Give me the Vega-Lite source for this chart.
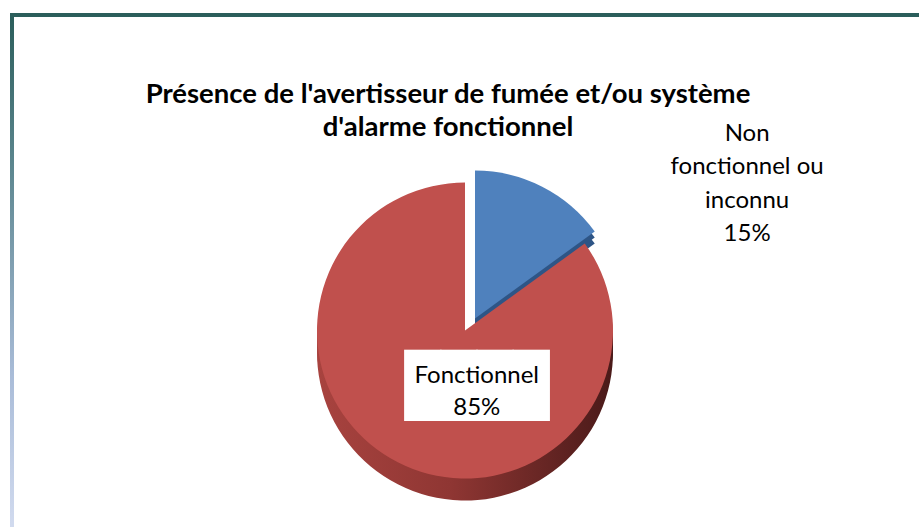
{
  "$schema": "https://vega.github.io/schema/vega-lite/v6.json",
  "width": 919,
  "height": 527,
  "autosize": {"type": "fit", "contains": "padding"},
  "padding": {"left": 10, "top": 13, "right": -5, "bottom": -5},
  "background": "white",
  "config": {
    "view": {"stroke": null},
    "font": "Lato"
  },
  "title": {
    "text": ["Présence de l'avertisseur de fumée et/ou système", "d'alarme fonctionnel"],
    "font": "Lato",
    "fontSize": 27.5,
    "fontWeight": "bold",
    "color": "#000000",
    "anchor": "middle",
    "frame": "group",
    "baseline": "alphabetic",
    "lineHeight": 33,
    "offset": -91,
    "dx": -19,
    "dy": 59
  },
  "data": {
    "values": [
      {"cat": "Non fonctionnel ou inconnu", "value": 15, "label": ["Non", "fonctionnel ou", "inconnu", "15%"]},
      {"cat": "Fonctionnel", "value": 85, "label": ["Fonctionnel", "85%"]}
    ]
  },
  "layer": [
    {
      "data": {"values": [{"frame": "chart"}]},
      "mark": {"type": "rect", "fill": null, "strokeWidth": 4, "stroke": {"gradient": "linear", "x1": 0, "y1": 0, "x2": 0, "y2": 1, "stops": [{"offset": 0, "color": "#2b5e5b"}, {"offset": 0.3, "color": "#5d8790"}, {"offset": 0.7, "color": "#a9bcd8"}, {"offset": 1, "color": "#d2dbef"}]}},
      "encoding": {
        "x": {"value": 0},
        "x2": {"value": "width"},
        "y": {"value": 0},
        "y2": {"value": "height"}
      }
    },
    {
      "mark": {"type": "arc", "radius": 148, "xOffset": -2, "yOffset": 66},
      "encoding": {
        "theta": {"field": "value", "type": "quantitative", "stack": true},
        "order": {"field": "value", "type": "quantitative", "sort": "ascending"},
        "fill": {"condition": {"test": "datum.cat === 'Fonctionnel'", "value": {"gradient": "linear", "x1": 0, "y1": 0, "x2": 1, "y2": 0, "stops": [{"offset": 0, "color": "#a8433f"}, {"offset": 0.45, "color": "#8f3633"}, {"offset": 1, "color": "#4a1a19"}]}}, "value": null}
      }
    },
    {
      "mark": {"type": "arc", "radius": 148, "xOffset": -2, "yOffset": 73},
      "encoding": {
        "theta": {"field": "value", "type": "quantitative", "stack": true},
        "order": {"field": "value", "type": "quantitative", "sort": "ascending"},
        "fill": {"condition": {"test": "datum.cat === 'Fonctionnel'", "value": {"gradient": "linear", "x1": 0, "y1": 0, "x2": 1, "y2": 0, "stops": [{"offset": 0, "color": "#a8433f"}, {"offset": 0.45, "color": "#8f3633"}, {"offset": 1, "color": "#4a1a19"}]}}, "value": null}
      }
    },
    {
      "mark": {"type": "arc", "radius": 148, "xOffset": -2, "yOffset": 80},
      "encoding": {
        "theta": {"field": "value", "type": "quantitative", "stack": true},
        "order": {"field": "value", "type": "quantitative", "sort": "ascending"},
        "fill": {"condition": {"test": "datum.cat === 'Fonctionnel'", "value": {"gradient": "linear", "x1": 0, "y1": 0, "x2": 1, "y2": 0, "stops": [{"offset": 0, "color": "#a8433f"}, {"offset": 0.45, "color": "#8f3633"}, {"offset": 1, "color": "#4a1a19"}]}}, "value": null}
      }
    },
    {
      "mark": {"type": "arc", "radius": 148, "xOffset": 8, "yOffset": 52},
      "encoding": {
        "theta": {"field": "value", "type": "quantitative", "stack": true},
        "order": {"field": "value", "type": "quantitative", "sort": "ascending"},
        "fill": {"condition": {"test": "datum.cat !== 'Fonctionnel'", "value": "#2e5586"}, "value": null}
      }
    },
    {
      "mark": {"type": "arc", "radius": 148, "xOffset": 8, "yOffset": 58},
      "encoding": {
        "theta": {"field": "value", "type": "quantitative", "stack": true},
        "order": {"field": "value", "type": "quantitative", "sort": "ascending"},
        "fill": {"condition": {"test": "datum.cat !== 'Fonctionnel'", "value": "#2e5586"}, "value": null}
      }
    },
    {
      "mark": {"type": "arc", "radius": 148, "xOffset": 8, "yOffset": 46},
      "encoding": {
        "theta": {"field": "value", "type": "quantitative", "stack": true},
        "order": {"field": "value", "type": "quantitative", "sort": "ascending"},
        "fill": {"condition": {"test": "datum.cat !== 'Fonctionnel'", "value": "#4f81bd"}, "value": null}
      }
    },
    {
      "mark": {"type": "arc", "radius": 148, "xOffset": -2, "yOffset": 58},
      "encoding": {
        "theta": {"field": "value", "type": "quantitative", "stack": true},
        "order": {"field": "value", "type": "quantitative", "sort": "ascending"},
        "fill": {"condition": {"test": "datum.cat === 'Fonctionnel'", "value": "#c0504d"}, "value": null}
      }
    },
    {
      "mark": {"type": "text", "text": "████", "font": "DejaVu Sans Mono", "fontSize": 60, "radius": 60, "dx": 37, "dy": 62, "align": "center", "baseline": "middle", "color": "white"},
      "encoding": {
        "theta": {"field": "value", "type": "quantitative", "stack": true},
        "order": {"field": "value", "type": "quantitative", "sort": "ascending"},
        "opacity": {"condition": {"test": "datum.cat === 'Fonctionnel'", "value": 1}, "value": 0}
      }
    },
    {
      "mark": {"type": "text", "font": "Lato", "fontSize": 24, "lineHeight": 32, "radius": 60, "dx": 37, "dy": 50, "align": "center", "baseline": "middle", "color": "#000000"},
      "encoding": {
        "theta": {"field": "value", "type": "quantitative", "stack": true},
        "order": {"field": "value", "type": "quantitative", "sort": "ascending"},
        "text": {"field": "label"},
        "opacity": {"condition": {"test": "datum.cat === 'Fonctionnel'", "value": 1}, "value": 0}
      }
    },
    {
      "mark": {"type": "text", "font": "Lato", "fontSize": 24, "lineHeight": 33.5, "radius": 150, "dx": 212, "dy": -5, "align": "center", "baseline": "middle", "color": "#000000"},
      "encoding": {
        "theta": {"field": "value", "type": "quantitative", "stack": true},
        "order": {"field": "value", "type": "quantitative", "sort": "ascending"},
        "text": {"field": "label"},
        "opacity": {"condition": {"test": "datum.cat !== 'Fonctionnel'", "value": 1}, "value": 0}
      }
    }
  ]
}
